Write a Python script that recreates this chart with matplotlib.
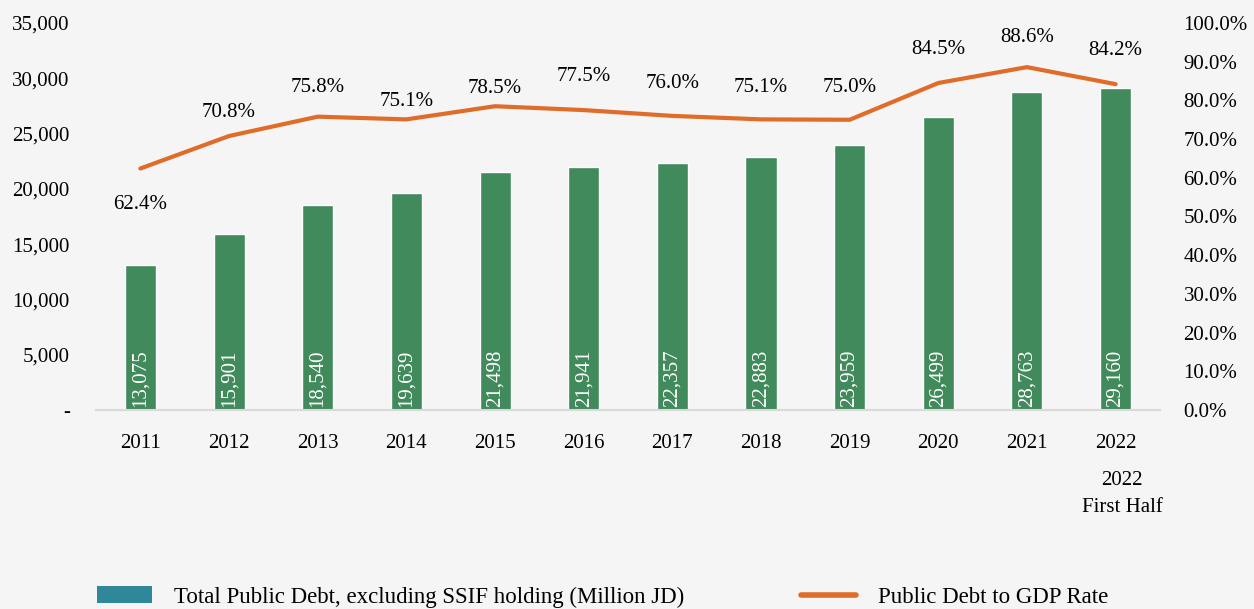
import matplotlib
matplotlib.use("Agg")
import matplotlib.pyplot as plt
from matplotlib.ticker import FuncFormatter, MultipleLocator
from matplotlib.patches import Patch
from matplotlib.lines import Line2D

plt.rcParams['font.family'] = ['Liberation Serif', 'DejaVu Serif']

years = ["2011", "2012", "2013", "2014", "2015", "2016", "2017", "2018", "2019", "2020", "2021", "2022"]
debt = [13075, 15901, 18540, 19639, 21498, 21941, 22357, 22883, 23959, 26499, 28763, 29160]
rate = [62.4, 70.8, 75.8, 75.1, 78.5, 77.5, 76.0, 75.1, 75.0, 84.5, 88.6, 84.2]
bar_label = "Total Public Debt, excluding SSIF holding (Million JD)"
line_label = "Public Debt to GDP Rate"
note_label = "2022\nFirst Half"

# label offsets (points) of the rate labels relative to the line
label_offsets = [-26, 17, 21, 13, 13, 24, 23, 23, 23, 24, 21, 24]

bg = "#f5f5f5"
bar_color = "#418a5c"
legend_bar_color = "#2e889a"
line_color = "#e06c2a"

fig = plt.figure(figsize=(12.54, 6.09), dpi=100, facecolor=bg)
ax = fig.add_axes([0.0766, 0.3268, 0.8484, 0.6354])
ax.set_facecolor(bg)
x = list(range(len(years)))

ax.bar(x, debt, width=0.35, color=bar_color, edgecolor="white", linewidth=1.0, zorder=2)
for xi, v in zip(x, debt):
    ax.text(xi, 300, f"{v:,}", rotation=90, ha="center", va="bottom",
            color="white", fontsize=15, zorder=3)

ax.set_xlim(-0.5, len(years) - 0.5)
ax.set_ylim(0, 35000)
ax.yaxis.set_major_locator(MultipleLocator(5000))
ax.yaxis.set_major_formatter(FuncFormatter(lambda v, p: "-" if v == 0 else f"{int(v):,}"))
ax.set_xticks(x)
ax.set_xticklabels(years)
for s in ["top", "left", "right"]:
    ax.spines[s].set_visible(False)
ax.spines["bottom"].set_color("#d9d9d9")
ax.spines["bottom"].set_linewidth(1.5)
ax.tick_params(axis="both", length=0, labelsize=15)
ax.tick_params(axis="x", pad=17)
ax.tick_params(axis="y", pad=19)

ax2 = ax.twinx()
ax2.plot(x, [r / 100 for r in rate], color=line_color, linewidth=3, solid_capstyle="round", zorder=4)
ax2.set_ylim(0, 1.0)
ax2.yaxis.set_major_locator(MultipleLocator(0.1))
ax2.yaxis.set_major_formatter(FuncFormatter(lambda v, p: f"{v*100:.1f}%"))
for s in ["top", "left", "right", "bottom"]:
    ax2.spines[s].set_visible(False)
ax2.tick_params(axis="y", length=0, labelsize=15, pad=17)

for xi, r, off in zip(x, rate, label_offsets):
    ax2.annotate(f"{r:.1f}%", (xi, r / 100), xytext=(0, off), textcoords="offset points",
                 ha="center", va="center", fontsize=15)

fig.text(1122 / 1254, 1 - 494 / 609, note_label, ha="center", va="center", fontsize=15,
         linespacing=1.55)

handles = [Patch(facecolor=legend_bar_color, edgecolor="none", label=bar_label),
           Line2D([0], [0], color=line_color, linewidth=4, solid_capstyle="round", label=line_label)]
fig.legend(handles=handles, loc="lower left", bbox_to_anchor=(0.061, -0.032), ncol=2,
           frameon=False, fontsize=16.5, handlelength=2.4, handletextpad=0.95,
           columnspacing=5.1, handleheight=0.75)

fig.savefig("out.png", dpi=100, facecolor=bg)
